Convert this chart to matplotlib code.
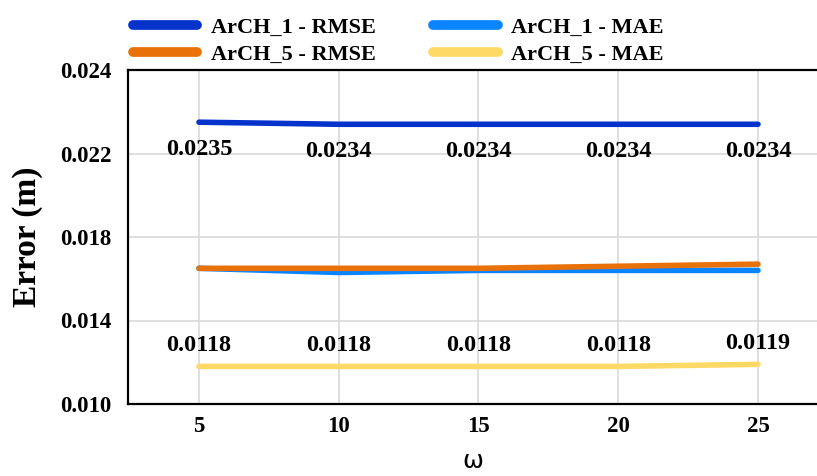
import matplotlib
matplotlib.use("Agg")
import matplotlib.pyplot as plt
from matplotlib.ticker import FixedLocator, FixedFormatter

omega = [5, 10, 15, 20, 25]
arch1_rmse = [0.0235, 0.0234, 0.0234, 0.0234, 0.0234]
arch1_mae = [0.0165, 0.0163, 0.0164, 0.0164, 0.0164]
arch5_rmse = [0.0165, 0.0165, 0.0165, 0.0166, 0.0167]
arch5_mae = [0.0118, 0.0118, 0.0118, 0.0118, 0.0119]
ytick_vals = [0.010, 0.014, 0.018, 0.022, 0.026]
ytick_labels = ["0.010", "0.014", "0.018", "0.022", "0.024"]

serif = "Liberation Serif"
fig = plt.figure(figsize=(8.17, 4.76), dpi=100)
ax = fig.add_axes([128/817, 1-404/476, 1-128/817, (404-70)/476])

lw = 4.0
ax.plot(omega, arch1_rmse, color="#0433CC", lw=lw, solid_capstyle="round", label="ArCH_1 - RMSE", zorder=3)
ax.plot(omega, arch1_mae, color="#0A84FF", lw=lw, solid_capstyle="round", label="ArCH_1 - MAE", zorder=3)
ax.plot(omega, arch5_rmse, color="#E8710A", lw=lw, solid_capstyle="round", label="ArCH_5 - RMSE", zorder=4)
ax.plot(omega, arch5_mae, color="#FFD966", lw=lw, solid_capstyle="round", label="ArCH_5 - MAE", zorder=3)

for x, v in zip(omega, arch1_rmse):
    ax.annotate(f"{v:.4f}", (x, v), xytext=(0, -19.5), textcoords="offset points",
                ha="center", va="center", fontsize=17.5, fontweight="bold", family=serif)
for x, v in zip(omega, arch5_mae):
    ax.annotate(f"{v:.4f}", (x, v), xytext=(0, 15), textcoords="offset points",
                ha="center", va="center", fontsize=17.5, fontweight="bold", family=serif)

ax.set_xlim(2.46, 5 + (817-199)/27.95)
ax.set_ylim(0.010, 0.026)
ax.set_xticks(omega)
ax.set_xticklabels([str(o) for o in omega])
ax.yaxis.set_major_locator(FixedLocator(ytick_vals))
ax.yaxis.set_major_formatter(FixedFormatter(ytick_labels))
ax.tick_params(length=0)
ax.tick_params(axis="x", pad=9)
ax.tick_params(axis="y", pad=12)
for lab in ax.get_xticklabels() + ax.get_yticklabels():
    lab.set_fontfamily(serif)
    lab.set_fontweight("bold")
    lab.set_fontsize(16.5)

ax.grid(True, color="#d9d9d9", lw=1.2, zorder=0)
ax.set_axisbelow(True)
for s in ["left", "bottom", "top"]:
    ax.spines[s].set_linewidth(1.6)
    ax.spines[s].set_color("black")
ax.spines["right"].set_visible(False)

ax.set_ylabel("Error (m)", fontsize=24, fontweight="bold", family=serif, labelpad=12)
ax.set_xlabel("ω", fontsize=18, family="DejaVu Sans", labelpad=8)

handles, labels = ax.get_legend_handles_labels()
order = [0, 2, 1, 3]
leg = fig.legend([handles[i] for i in order], [labels[i] for i in order], ncol=2,
                 loc="upper left", bbox_to_anchor=(113/817, 1.006), frameon=False,
                 handlelength=2.9, columnspacing=2.6, handletextpad=0.6, labelspacing=0.3,
                 prop={"family": serif, "weight": "bold", "size": 16})
for h in leg.get_lines():
    h.set_linewidth(7)
    h.set_solid_capstyle("round")

fig.savefig("out.png", dpi=100)
